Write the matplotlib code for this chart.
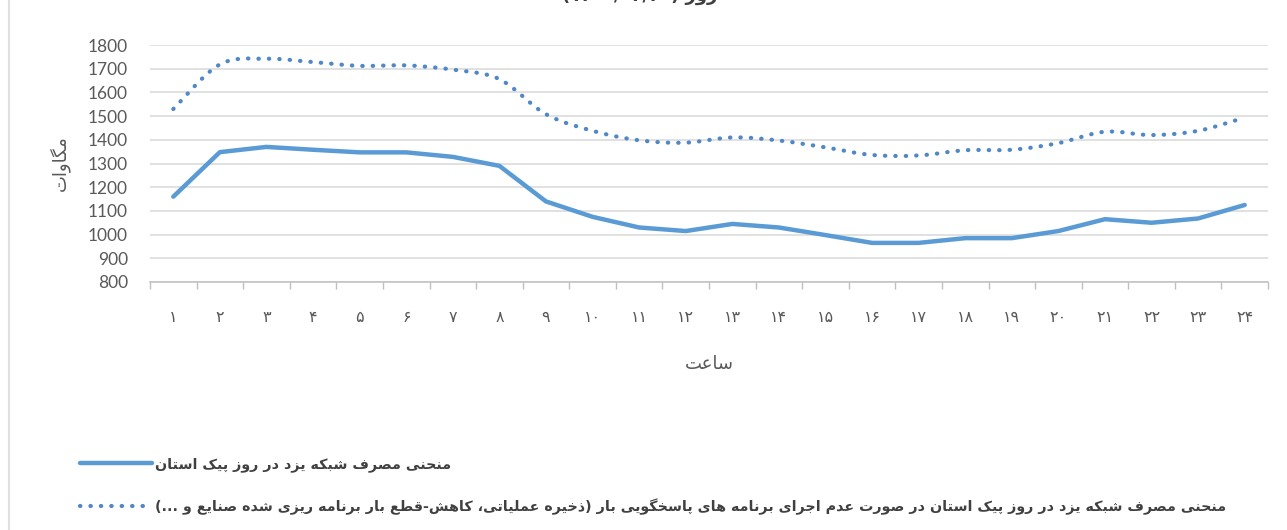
import re
import unicodedata
import numpy as np
import matplotlib
matplotlib.use('Agg')
import matplotlib.pyplot as plt
from matplotlib.path import Path
from matplotlib.patches import PathPatch
from matplotlib.lines import Line2D

# data
hours = list(range(1, 25))
hour_labels = ['۱', '۲', '۳', '۴', '۵', '۶', '۷', '۸', '۹', '۱۰', '۱۱', '۱۲',
               '۱۳', '۱۴', '۱۵', '۱۶', '۱۷', '۱۸', '۱۹', '۲۰', '۲۱', '۲۲', '۲۳', '۲۴']
actual = [1160, 1348, 1370, 1358, 1347, 1347, 1328, 1290, 1140, 1075, 1030, 1015,
          1045, 1030, 998, 965, 965, 985, 985, 1015, 1065, 1050, 1068, 1125]
no_dr = [1530, 1718, 1742, 1728, 1712, 1714, 1696, 1656, 1508, 1438, 1398, 1388,
         1410, 1397, 1368, 1336, 1334, 1356, 1358, 1386, 1434, 1420, 1438, 1494]
yticks = [800, 900, 1000, 1100, 1200, 1300, 1400, 1500, 1600, 1700, 1800]

label_actual = 'منحنی مصرف شبکه یزد در روز پیک استان'
label_no_dr = ('منحنی مصرف شبکه یزد در روز پیک استان در صورت عدم اجرای برنامه های پاسخگویی بار '
               '(ذخیره عملیاتی، کاهش-قطع بار برنامه ریزی شده صنایع و ...)')
xlabel = 'ساعت'
ylabel = 'مگاوات'
title = 'روز (۱۴۰۰/۰۴/۲۰)'


# matplotlib has no arabic shaping, so pick the presentation forms by hand
def form(ch, kind):
    try:
        return unicodedata.lookup(unicodedata.name(ch) + ' ' + kind + ' FORM')
    except (KeyError, ValueError):
        return None


def joining(ch):
    if not ch:
        return None
    if form(ch, 'INITIAL'):
        return 'D'
    if form(ch, 'FINAL'):
        return 'R'
    return None


def rtl(text):
    out = []
    for i, ch in enumerate(text):
        t = joining(ch)
        if t is None:
            out.append(ch)
            continue
        prev = text[i - 1] if i > 0 else ''
        nxt = text[i + 1] if i + 1 < len(text) else ''
        jp = joining(prev) == 'D'
        jn = t == 'D' and joining(nxt) is not None
        kind = 'MEDIAL' if jp and jn else 'FINAL' if jp else 'INITIAL' if jn else 'ISOLATED'
        out.append(form(ch, kind) or ch)
    s = ''.join(out)[::-1].translate(str.maketrans('()', ')('))
    return re.sub(r'[0-9۰-۹/]+', lambda m: m.group()[::-1], s)


blue = '#5b9bd5'
dotblue = '#4f87c7'
gray = '#595959'

fig = plt.figure(figsize=(12.87, 5.30), dpi=100)
ax = fig.add_axes([150 / 1287, 1 - 282 / 530, (1268 - 150) / 1287, (282 - 45) / 530])

ax.plot(hours, actual, color=blue, lw=3.2, solid_joinstyle='round', solid_capstyle='round', zorder=3)

# smoothed dotted line (catmull-rom through the data points, as excel does)
pts = np.column_stack([hours, no_dr]).astype(float)
ext = np.vstack([pts[0], pts, pts[-1]])
verts = [pts[0]]
codes = [Path.MOVETO]
for i in range(len(pts) - 1):
    p0, p1, p2, p3 = ext[i], ext[i + 1], ext[i + 2], ext[i + 3]
    verts += [p1 + (p2 - p0) / 6, p2 - (p3 - p1) / 6, p2]
    codes += [Path.CURVE4] * 3
ax.add_patch(PathPatch(Path(verts, codes), fill=False, edgecolor=dotblue, lw=3.0,
                       linestyle=(0, (0.1, 2.4)), capstyle='round', zorder=3))

ax.set_xlim(0.5, 24.5)
ax.set_ylim(800, 1800)
ax.set_yticks(yticks)
ax.set_yticklabels([str(v) for v in yticks], family=['Lato', 'DejaVu Sans'], fontsize=12.5, color=gray)
ax.tick_params(axis='y', length=0, pad=16)
ax.grid(axis='y', color='#d9d9d9', lw=1.1)
ax.set_axisbelow(True)

ax.set_xticks(hours)
ax.set_xticklabels(hour_labels, family='DejaVu Sans', fontsize=11.5, color=gray)
ax.tick_params(axis='x', which='major', length=0, pad=20)
ax.set_xticks(np.arange(0.5, 25, 1), minor=True)
ax.tick_params(axis='x', which='minor', length=5, color='#bfbfbf', width=1)

for s in ['top', 'right', 'left']:
    ax.spines[s].set_visible(False)
ax.spines['bottom'].set_color('#bfbfbf')
ax.spines['bottom'].set_linewidth(1.1)

ax.set_xlabel(rtl(xlabel), family='DejaVu Sans', fontsize=13, color=gray, labelpad=22)
ax.set_ylabel(rtl(ylabel), family='DejaVu Sans', fontsize=13, color=gray, labelpad=13)

# title is cut off at the top edge of the reference
fig.text(640 / 1287, 1 - 1 / 530, rtl(title), ha='center', va='baseline',
         family='DejaVu Sans', fontweight='bold', fontsize=13, color='#404040')

handles = [Line2D([], [], color=blue, lw=3.2, solid_capstyle='round'),
           Line2D([], [], color=dotblue, lw=3.0, linestyle=(0, (0.1, 2.4)), dash_capstyle='round')]
fig.legend(handles, [rtl(label_actual), rtl(label_no_dr)], loc='upper left',
           bbox_to_anchor=(80 / 1287, 1 - 457 / 530), frameon=False, borderpad=0,
           borderaxespad=0, handlelength=5.0, handletextpad=0.25, labelspacing=1.85,
           prop={'family': 'DejaVu Sans', 'weight': 'bold', 'size': 10.3}, labelcolor='#404040')

# page edge on the left
fig.add_artist(Line2D([9 / 1287, 9 / 1287], [0, 1], color='#e0e0e0', lw=1.5))

fig.savefig('out.png', dpi=100)
